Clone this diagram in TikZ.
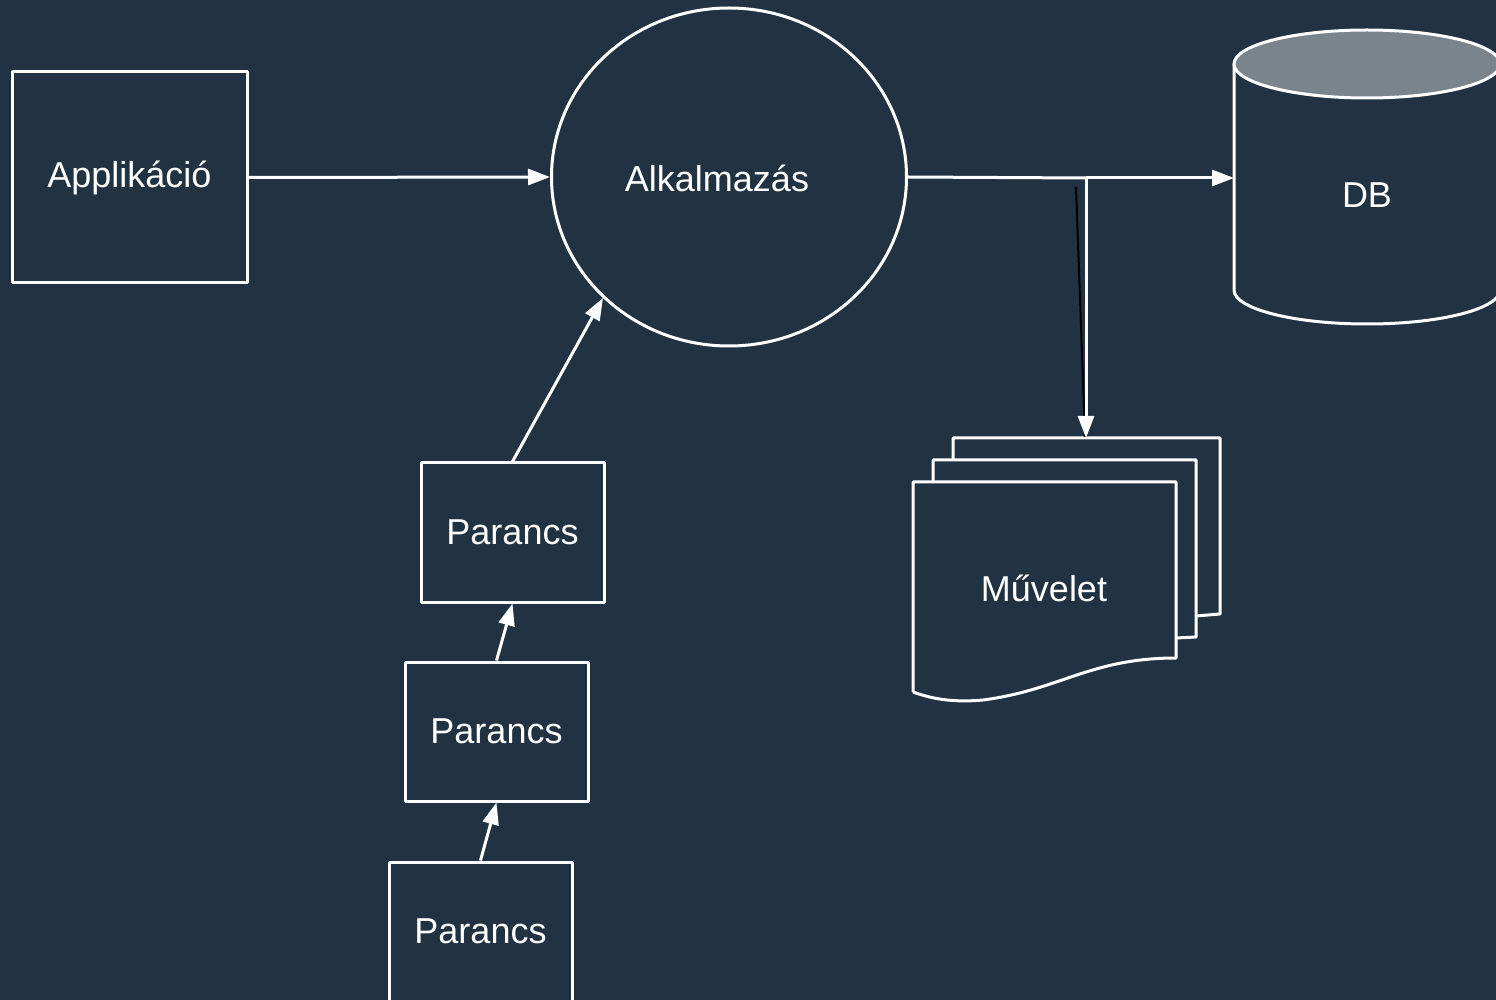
\documentclass[tikz,border=0pt]{standalone}
\usepackage{fontspec}
\setmainfont{Liberation Sans}
\usetikzlibrary{positioning,arrows.meta,shapes.geometric}
\definecolor{bgnavy}{RGB}{33,50,67}
\definecolor{lidgrey}{RGB}{122,132,141}

\begin{document}
\begin{tikzpicture}[x=0.5pt, y=-0.5pt, line join=round,
    >={Triangle[length=11pt,width=8pt]}]
  % styles
  \tikzset{
    wire/.style={white, line width=1.5pt},
    flow/.style={wire, ->},
    boxed/.style={draw=white, line width=1.5pt, text=white, font=\fontsize{18}{20}\selectfont},
    cmdbox/.style={boxed, rectangle, minimum width=91.5pt, minimum height=69.5pt},
    lbl/.style={text=white, font=\fontsize{18}{20}\selectfont}
  }

  % ----- background -----
  \fill[bgnavy] (0,0) rectangle (1496,1000);
  \useasboundingbox (0,0) rectangle (1496,1000);

  % ----- nodes -----
  \node[boxed, rectangle, minimum width=117.5pt, minimum height=105.5pt]
      (app) at (129.5,177.5) {Applikáció};
  \node[boxed, ellipse, minimum width=177.5pt, minimum height=169pt, inner sep=0pt]
      (alk) at (729,177) {};
  \node[lbl] (alklbl) at (717,178) {Alkalmazás};

  \node[cmdbox] (cmd1) at (512.5,532.5) {Parancs};
  \node[cmdbox] (cmd2) at (496.5,731.5) {Parancs};
  \node[cmdbox] (cmd3) at (480.5,931.5) {Parancs};

  % ----- DB cylinder -----
  \draw[wire] (1234,64) -- (1234,290)
      arc[start angle=180, end angle=0, x radius=133, y radius=34]
      -- (1500,64);
  \draw[wire, fill=lidgrey] (1367,64) ellipse[x radius=133, y radius=34];
  \node[lbl] (db) at (1367,195) {DB};
  \coordinate (dbin) at (1234,178);

  % ----- document stack -----
  \draw[wire] (1196,616) -- (1220,614) -- (1220,438) -- (953,438) -- (953,460);
  \draw[wire] (1176,638) -- (1196,637) -- (1196,460) -- (933,460) -- (933,482);
  \draw[wire, fill=bgnavy] (913,692) -- (913,482) -- (1176,482) -- (1176,658)
      .. controls (1090,658) and (1060,690) .. (983,700)
      .. controls (950,703) and (930,698) .. (913,692);
  \node[lbl] (muv) at (1044,588) {Művelet};
  \coordinate (muvin) at (1086,438);

  % ----- connectors -----
  \draw[flow] (app.east) -- (alk.west);
  \coordinate (split) at (1086,178);
  \draw[wire] (alk.east) -- (split);
  \draw[flow] (split) -- (dbin);
  \draw[black, line width=1pt] (1076,187) -- (1085,437);
  \draw[flow] (split) -- (muvin);

  \draw[flow] (cmd3.north) -- (cmd2.south);
  \draw[flow] (cmd2.north) -- (cmd1.south);
  \coordinate (alkin) at (603,298);
  \draw[flow] (cmd1.north) -- (alkin);
\end{tikzpicture}
\end{document}
